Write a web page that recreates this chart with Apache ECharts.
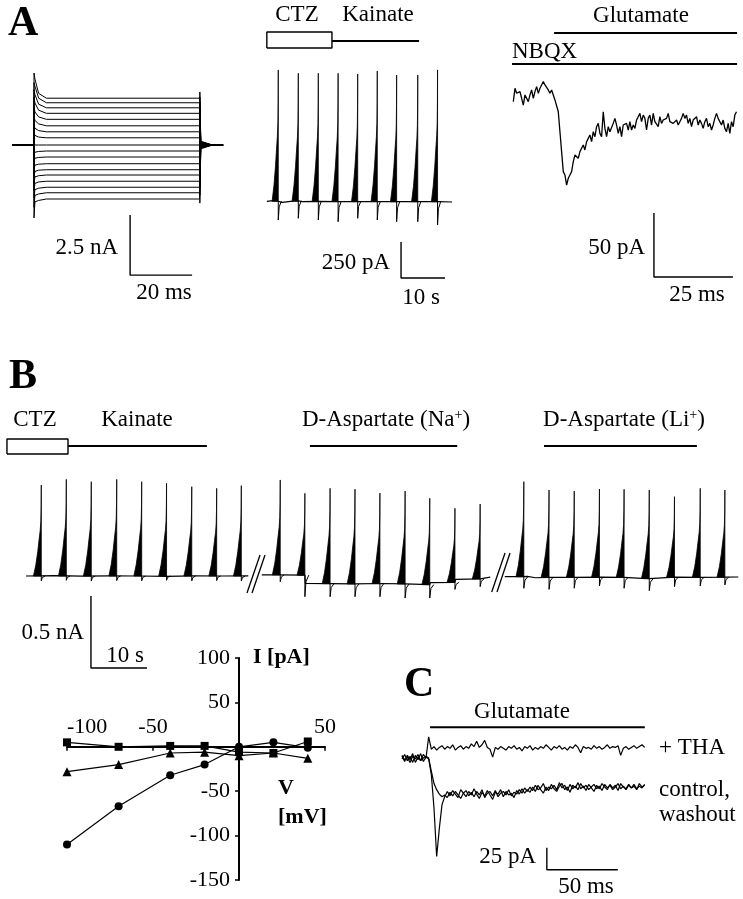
<!DOCTYPE html>
<html>
<head>
<meta charset="utf-8">
<title>Transporter currents</title>
<script src="https://cdn.jsdelivr.net/npm/echarts@6/dist/echarts.min.js"></script>
<style>
html, body { margin: 0; padding: 0; background: #fff; }
#main { width: 743px; height: 899px; }
</style>
</head>
<body>
<div id="main"></div>
<script>
// A left: current family for voltage steps (nA, ms)
var stepLevels   = [1.95, 1.76, 1.55, 1.32, 1.07, 0.80, 0.55, 0.30, 0, -0.25, -0.50, -0.78, -1.03, -1.25, -1.51, -1.76, -1.99, -2.25];
var stepOnset    = [2.75, 2.45, 2.10, 1.75, 1.38, 1.02, 0.70, 0.40, 0, -0.30, -0.55, -0.84, -1.10, -1.33, -1.60, -1.86, -2.10, -2.37];
var stepEarly    = [2.15, 1.95, 1.70, 1.45, 1.17, 0.88, 0.60, 0.33, 0, -0.27, -0.52, -0.80, -1.05, -1.28, -1.54, -1.80, -2.04, -2.31];
var stepOnSpike  = [3.00, 2.60, 2.30, 2.00, 1.60, 1.20, 0.80, 0.50, 0, -0.40, -0.70, -1.00, -1.30, -1.60, -1.90, -2.20, -2.60, -3.04];
var stepOffSpike = [-2.42, -2.10, -1.80, -1.50, -1.20, -0.90, -0.60, -0.30, 0, 0.30, 0.60, 0.90, 1.20, 1.40, 1.60, 1.80, 2.00, 2.21];
var stepTail     = [-0.16, -0.14, -0.12, -0.10, -0.08, -0.06, -0.04, -0.02, 0, 0.02, 0.04, 0.05, 0.07, 0.09, 0.11, 0.12, 0.14, 0.16];

// A middle: kainate responses after CTZ (pA, s)
var kaPulseT    = [3.7, 8.25, 12.8, 17.3, 21.75, 26.2, 30.6, 35.4, 39.9];
var kaPulseBase = [5, 8, 5, 3, 3, 3, 2, 2, 2];
var kaPulsePeak = [917, 894, 894, 894, 889, 910, 882, 882, 917];
var kaPulseTick = [-125, -113, -125, -137, -113, -125, -137, -137, -160];
var kaBaseline  = [[1.1, 5], [2.5, 10], [3.7, 5], [4.6, -3], [6.5, 4], [8.25, 8], [9.2, 3], [12.8, 5], [17.3, 3], [26.2, 3], [30.6, 2], [40.0, 2], [43.2, 0]];

// A right: glutamate in NBQX (pA), sampled every nbqxDt ms
var nbqxT0 = 0.1, nbqxDt = 0.527;
var nbqxTrace = [
  -3.6, 6.8, 2.9, 1.6, 4.2, -1.0, -6.3, 1.6, 2.9, -3.6,
  1.6, 5.5, -1.0, 4.2, 8.1, 2.9, 6.8, 9.4, 12.0, 9.4,
  8.1, 5.5, 2.9, 5.5, 1.6, -2.3, -3.6, -11.5, -27.1, -42.7,
  -58.3, -60.9, -68.8, -63.5, -60.9, -58.3, -50.5, -45.3, -44.0, -47.9,
  -42.7, -40.1, -37.5, -41.4, -34.9, -32.3, -29.7, -34.9, -27.1, -31.0,
  -23.2, -20.6, -28.4, -31.0, -11.5, -24.5, -31.0, -23.2, -27.1, -25.8,
  -20.6, -16.7, -21.9, -28.4, -23.2, -31.0, -21.9, -23.2, -20.6, -25.8,
  -19.3, -25.8, -21.9, -24.5, -18.0, -15.4, -12.8, -19.3, -14.1, -16.7,
  -25.8, -16.7, -14.1, -21.9, -12.8, -19.3, -18.0, -23.2, -15.4, -20.6,
  -18.0, -19.3, -16.7, -12.8, -19.3, -18.0, -20.6, -21.9, -18.0, -21.9,
  -19.3, -16.7, -12.8, -16.7, -14.1, -20.6, -16.7, -23.2, -18.0, -19.3,
  -15.4, -21.9, -18.0, -20.6, -24.5, -19.3, -16.7, -23.2, -20.6, -25.8,
  -21.9, -16.7, -12.8, -16.7, -15.4, -21.9, -18.0, -24.5, -27.1, -20.6,
  -28.4, -19.3, -23.2, -14.1, -11.5
];

// B: kainate / D-aspartate (Na+) / D-aspartate (Li+) (pA, s)
var bPulseT    = [2.73, 7.2, 11.66, 16.2, 20.66, 25.1, 29.6, 34.05, 38.45,
                  45.4, 49.8, 54.3, 58.75, 63.2, 67.7, 72.1, 76.6, 81.1,
                  88.9, 93.4, 97.9, 102.4, 106.8, 111.3, 115.8, 120.4, 124.8];
var bPulseBase = [0, 0, 0, 0, 0, 0, 0, 0, 0,
                  8, 6, -53, -55, -52, -55, -60, -44, -20,
                  -5, -9, -9, -8, -10, -18, -8, -9, -8];
var bPulsePeak = [632, 671, 655, 671, 655, 644, 620, 609, 627,
                  667, 574, 609, 603, 576, 590, 540, 470, 500,
                  655, 597, 590, 604, 602, 597, 551, 609, 597];
var bPulseTick = [-33, -30, -35, -32, -33, -30, -34, -32, -35,
                  -40, -144, -144, -144, -144, -153, -153, -93, -74,
                  -85, -93, -85, -69, -85, -102, -74, -69, -62];
var bBaseline1 = [[0, 0], [5, 2], [10, -1], [15, 1], [20, 0], [25, -2], [30, 1], [35, 0], [39.7, 1]];
var bBaseline2 = [[42.1, 8], [45.4, 8], [45.5, 6], [49.8, 6], [49.9, -51], [54.3, -53], [58.75, -55], [63.2, -52],
                  [67.7, -55], [67.8, -62], [72.1, -60], [72.2, -46], [76.6, -44], [76.7, -23], [81.1, -20], [81.2, -9], [82.9, -8]];
var bBaseline3 = [[85.5, -5], [88.9, -5], [89.5, -2], [91, -12], [93.4, -9], [97.9, -9], [102.4, -8], [106.8, -10],
                  [110, -16], [111.3, -18], [111.5, -9], [115.8, -8], [120.4, -9], [124.8, -8], [127.2, -7]];

// B inset: I-V relation (mV, pA)
var ivVoltage  = [-100, -70, -40, -20, 0, 20, 40];
var ivCircle   = [-110, -67, -32, -20, 0, 5, -1];
var ivTriangle = [-28, -20, -7, -6, -10, -7, -13];
var ivSquare   = [5, 0, 1, 1, -6, -7, 6];
var ivTicks    = [-100, -50, 50];

// C: glutamate, control / washout / + THA (pA), sampled every cDt ms
var cT0 = 0, cDt = 1.878;
var cTha = [2, -4, 3, -2, 5, -5, 1, -3, 4, 0,
  24, 10, 13, 9, 12, 14, 10, 13, 11, 15, 9, 12, 14, 10, 13, 11, 16, 13, 19, 12,
  15, 20, 12, 10, 1, 12, 10, 13, 11, 9, 13, 11, 14, 10, 12, 8, 13, 11, 14, 9,
  12, 10, 13, 11, 15, 12, 9, 13, 11, 14, 10, 12, 9, 13, 11, 15, 12, 6, 13, 11,
  12, 10, 14, 11, 13, 10, 12, 15, 11, 13, 12, 14, 3, 11, 13, 10, 12, 14, 11, 13, 15, 12];
var cControl = [-1, 4, -3, 2, -5, 3, -2, 5, -4, 1,
  -1, -19, -57, -112, -80, -53, -44, -38, -43, -37, -41, -45, -36, -40, -44, -38, -42, -35, -41, -46,
  -39, -43, -37, -42, -47, -39, -41, -36, -44, -38, -42, -40, -45, -37, -41, -35, -40, -36, -39, -33,
  -38, -31, -36, -40, -33, -37, -30, -35, -38, -32, -29, -36, -33, -39, -31, -34, -28, -35, -32, -37,
  -30, -34, -38, -31, -35, -29, -33, -36, -30, -34, -31, -37, -29, -33, -35, -30, -34, -32, -36, -29, -33, -31];
var cWashout = [3, -2, 1, -5, 2, -1, 4, -3, 0, 2,
  0, -15, -29, -36, -41, -44, -42, -45, -39, -43, -38, -42, -46, -40, -37, -43, -39, -44, -38, -42,
  -36, -45, -40, -38, -43, -37, -44, -40, -38, -42, -36, -43, -39, -41, -36, -40, -34, -38, -33, -37,
  -31, -36, -34, -29, -37, -33, -35, -31, -36, -28, -34, -31, -37, -30, -35, -32, -36, -29, -34, -31,
  -36, -33, -30, -35, -32, -37, -30, -34, -31, -36, -33, -29, -35, -32, -36, -31, -34, -30, -35, -32, -34, -30];

var SERIF = '"Liberation Serif", "Times New Roman", serif';
var PULSE_W = 1.4;

function sampled(t0, dt, values) {
  return values.map(function (v, i) { return [t0 + i * dt, v]; });
}
function trace(g, data, w) {
  return { type: 'line', xAxisIndex: g, yAxisIndex: g, data: data, symbol: 'none', silent: true,
           animation: false, clip: false, lineStyle: { color: '#000', width: w || 1 } };
}
// L-shaped scale bar: vertical of size dy below (x, y), then dx to the right
function scaleBar(g, x, y, dx, dy) {
  return trace(g, [[x, y], [x, y - dy], [x + dx, y - dy]], 1.4);
}
function box(g, x0, x1, y0, y1) {
  return trace(g, [[x0, y0], [x1, y0], [x1, y1], [x0, y1], [x0, y0]], 1.4);
}
// filled ramp on the left of each peak, thin spike on top, short downward tick after it
function renderPulse(params, api) {
  var t = api.value(0), b = api.value(1), p = api.value(2), k = api.value(3);
  var h = p - b;
  var prof = [[1, 0], [0.7, 0.12], [0.45, 0.27], [0.28, 0.4], [0.14, 0.5], [0.06, 0.6], [0.02, 0.76], [0, 1]];
  var pts = prof.map(function (s) { return api.coord([t - s[0] * PULSE_W, b + s[1] * h]); });
  pts.push(api.coord([t, b]));
  var tick = [api.coord([t, b]), api.coord([t, k]), api.coord([t + 0.2, b + 0.3 * (k - b)]), api.coord([t + 0.7, b])];
  return {
    type: 'group',
    children: [
      { type: 'polygon', shape: { points: pts }, style: { fill: '#000', stroke: '#000', lineWidth: 0.8 } },
      { type: 'polyline', shape: { points: tick }, style: { fill: null, stroke: '#000', lineWidth: 1 } }
    ]
  };
}
function pulses(g, ts, base, peak, tick) {
  return { type: 'custom', xAxisIndex: g, yAxisIndex: g, silent: true, animation: false, clip: false,
           renderItem: renderPulse,
           data: ts.map(function (t, i) { return [t, base[i], peak[i], tick[i]]; }) };
}
function txt(s, x, y, opt) {
  opt = opt || {};
  return { type: 'text', x: x, y: y, silent: true,
           style: { text: s, fill: '#000', rich: opt.rich,
                    font: (opt.bold ? 'bold ' : '') + (opt.size || 23) + 'px ' + SERIF,
                    textAlign: opt.align || 'center', textVerticalAlign: 'middle', verticalAlign: 'middle' } };
}

var grids = [
  { left: 12.3, top: 61, width: 220.1, height: 240 },       // A left
  { left: 262, top: 22, width: 198, height: 288 },          // A middle
  { left: 509.84, top: 26.6, width: 230.7, height: 262.4 }, // A right
  { left: 3.6, top: 396, width: 739.2, height: 288 },       // B trace
  { left: 67, top: 658, width: 258, height: 222 },          // I-V
  { left: 394.9, top: 718.4, width: 255.6, height: 162.8 }  // C
];
grids.forEach(function (g) { g.outerBoundsMode = 'none'; g.containLabel = false; });

var ranges = [
  [[-7, 64], [-6.5, 3.5]],
  [[0, 45], [-750, 1250]],
  [[-1, 72], [-150, 55]],
  [[-4, 128], [-750, 1250]],
  null,
  [[-5, 175], [-140, 45]]
];
var xAxes = [], yAxes = [];
ranges.forEach(function (r, i) {
  if (!r) {
    // I-V axes cross at the origin: shift them into the grid with negative offsets
    var g = grids[i];
    xAxes.push({
      gridIndex: i, type: 'value', min: -100, max: 50, interval: 50, position: 'bottom',
      offset: -(g.height * 150 / 250),
      axisLine: { onZero: false, lineStyle: { color: '#000', width: 2 } },
      axisTick: { show: true, length: 4, lineStyle: { color: '#000', width: 1.5 } },
      axisLabel: { inside: true, margin: 9, color: '#000', fontSize: 22, fontFamily: SERIF,
                   showMinLabel: true, showMaxLabel: true, alignMinLabel: 'left',
                   formatter: function (v) { return ivTicks.indexOf(v) >= 0 ? String(v) : ''; } },
      splitLine: { show: false }
    });
    yAxes.push({
      gridIndex: i, type: 'value', min: -150, max: 100, interval: 50, position: 'left',
      offset: -(g.width * 100 / 150),
      axisLine: { onZero: false, lineStyle: { color: '#000', width: 2 } },
      axisTick: { show: true, length: 4, lineStyle: { color: '#000', width: 1.5 } },
      axisLabel: { margin: 9, color: '#000', fontSize: 22, fontFamily: SERIF,
                   showMinLabel: true, showMaxLabel: true,
                   formatter: function (v) { return v === 0 ? '' : String(v); } },
      splitLine: { show: false }
    });
    return;
  }
  xAxes.push({ gridIndex: i, type: 'value', min: r[0][0], max: r[0][1], show: false });
  yAxes.push({ gridIndex: i, type: 'value', min: r[1][0], max: r[1][1], show: false });
});

var series = [];

// A left
stepLevels.forEach(function (lv, i) {
  series.push(trace(0, [[-7, 0], [0, 0], [0, stepOnSpike[i]], [0.3, stepOnset[i]], [1.5, stepEarly[i]], [4, lv],
                        [53.4, lv], [53.5, stepOffSpike[i]], [53.8, stepTail[i]], [57.5, 0], [61, 0]], 1));
});
series.push(scaleBar(0, 31, -2.92, 20, 2.5));

// A middle
series.push(trace(1, kaBaseline, 1.2));
series.push(pulses(1, kaPulseT, kaPulseBase, kaPulsePeak, kaPulseTick));
series.push(box(1, 1.1, 15.9, 1069, 1181));
series.push(trace(1, [[15.9, 1118], [35.7, 1118]], 2));
series.push(scaleBar(1, 31.6, -278, 10, 250));

// A right
series.push(trace(2, sampled(nbqxT0, nbqxDt, nbqxTrace), 1.3));
series.push(trace(2, [[13, 50], [70.9, 50]], 2));
series.push(trace(2, [[-0.3, 25.8], [70.9, 25.8]], 2));
series.push(scaleBar(2, 44.6, -90.6, 25, 50));

// B
[bBaseline1, bBaseline2, bBaseline3].forEach(function (seg) { series.push(trace(3, seg, 1.2)); });
series.push(pulses(3, bPulseT, bPulseBase, bPulsePeak, bPulseTick));
series.push(box(3, -3.4, 7.5, 847, 951));
series.push(trace(3, [[7.5, 903], [32.3, 903]], 2));
series.push(trace(3, [[50.7, 903], [77, 903]], 2));
series.push(trace(3, [[92.5, 903], [119.8, 903]], 2));
[[[39.46, -118], [41.79, 146]], [[40.36, -118], [42.68, 146]],
 [[83.16, -111], [85.54, 160]], [[84.11, -111], [86.43, 160]]].forEach(function (d) {
  series.push(trace(3, d, 1.3));
});
series.push(scaleBar(3, 11.6, -139, 10, 500));

// I-V
[[ivCircle, 'circle', 8], [ivTriangle, 'triangle', 9], [ivSquare, 'rect', 8]].forEach(function (s) {
  series.push({ type: 'line', xAxisIndex: 4, yAxisIndex: 4, animation: false, silent: true,
                symbol: s[1], symbolSize: s[2], itemStyle: { color: '#000' },
                lineStyle: { color: '#000', width: 1.2 },
                data: ivVoltage.map(function (v, i) { return [v, s[0][i]]; }) });
});

// C
series.push(trace(5, sampled(cT0, cDt, cTha), 1.2));
series.push(trace(5, sampled(cT0, cDt, cWashout), 1.2));
series.push(trace(5, sampled(cT0, cDt, cControl), 1.2));
series.push(trace(5, [[19.7, 35], [171, 35]], 2));
series.push(scaleBar(5, 102, -102, 50, 25));

var supRich = { a: { fontSize: 23, fontFamily: SERIF, color: '#000' },
                s: { fontSize: 14, fontFamily: SERIF, color: '#000', verticalAlign: 'top', padding: [0, 0, 8, 0] } };

var graphics = [
  txt('A', 8, 24, { bold: true, size: 42, align: 'left' }),
  txt('CTZ', 297, 15), txt('Kainate', 378, 15),
  txt('Glutamate', 641, 16), txt('NBQX', 512, 52, { align: 'left' }),
  txt('2.5 nA', 118, 248, { align: 'right' }), txt('20 ms', 164, 293),
  txt('250 pA', 390, 263, { align: 'right' }), txt('10 s', 421, 298),
  txt('50 pA', 645, 248, { align: 'right' }), txt('25 ms', 697, 295),
  txt('B', 9, 377, { bold: true, size: 42, align: 'left' }),
  txt('CTZ', 35, 420), txt('Kainate', 137, 420),
  txt('{a|D-Aspartate (Na}{s|+}{a|)}', 386, 420, { rich: supRich }),
  txt('{a|D-Aspartate (Li}{s|+}{a|)}', 624, 420, { rich: supRich }),
  txt('0.5 nA', 84, 633, { align: 'right' }), txt('10 s', 125, 656),
  txt('I [pA]', 253, 657, { bold: true, size: 22, align: 'left' }),
  txt('V', 286, 788, { bold: true, size: 22 }),
  txt('[mV]', 278, 817, { bold: true, size: 22, align: 'left' }),
  txt('C', 404, 685, { bold: true, size: 42, align: 'left' }),
  txt('Glutamate', 522, 712),
  txt('+ THA', 659, 748, { align: 'left' }),
  txt('control,', 659, 790, { align: 'left' }),
  txt('washout', 659, 815, { align: 'left' }),
  txt('25 pA', 536, 857, { align: 'right' }), txt('50 ms', 586, 887)
];

var chart = echarts.init(document.getElementById('main'), null, { renderer: 'canvas' });
chart.setOption({
  backgroundColor: '#fff',
  animation: false,
  grid: grids,
  xAxis: xAxes,
  yAxis: yAxes,
  series: series,
  graphic: { elements: graphics }
});
</script>
</body>
</html>
